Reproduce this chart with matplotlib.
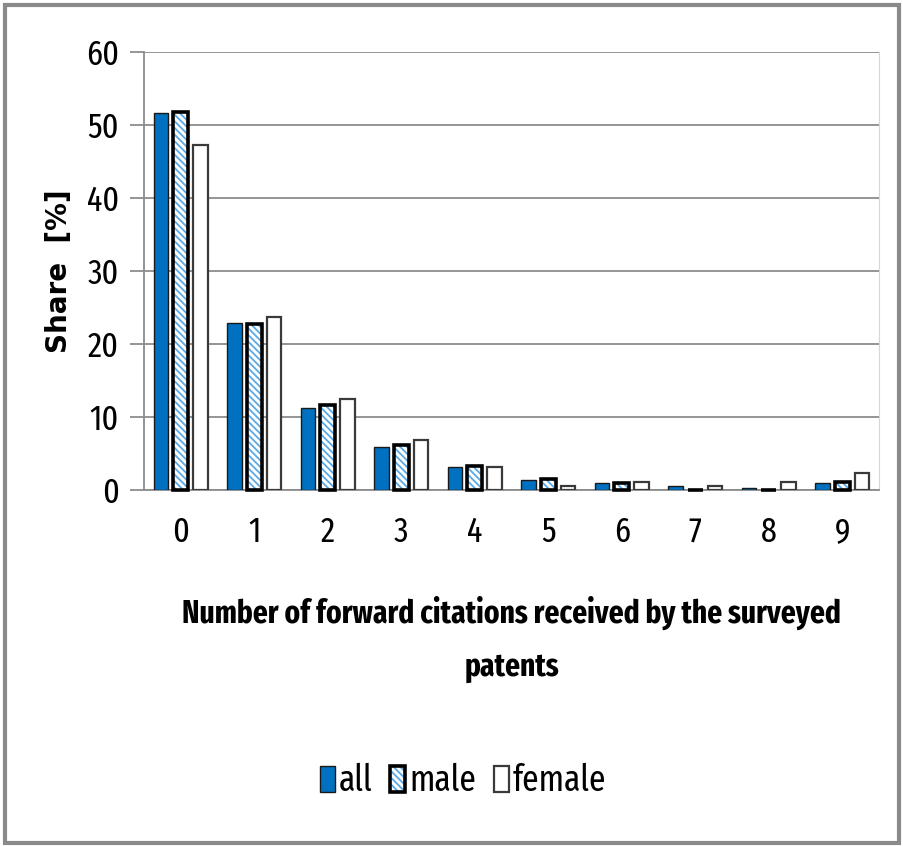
import numpy as np
import matplotlib
matplotlib.use('Agg')
from matplotlib import pyplot as plt
from matplotlib import font_manager
from matplotlib.patches import Rectangle

# pick a condensed family for the labels
installed = {f.name for f in font_manager.fontManager.ttflist}
narrow_fonts = ['Fira Sans Extra Condensed', 'Fira Sans Condensed', 'Open Sans Condensed',
                'Roboto Condensed', 'PT Sans Narrow', 'Archivo Narrow',
                'Encode Sans Condensed', 'Barlow Condensed', 'Liberation Sans Narrow']
narrow = next((f for f in narrow_fonts if f in installed), 'DejaVu Sans')
plt.rcParams['font.family'] = [narrow, 'DejaVu Sans']
plt.rcParams['hatch.linewidth'] = 1.3

citations = ['0', '1', '2', '3', '4', '5', '6', '7', '8', '9']
share_all = [51.7, 22.9, 11.3, 5.9, 3.1, 1.4, 0.9, 0.6, 0.3, 0.9]
share_male = [51.8, 22.8, 11.6, 6.2, 3.3, 1.5, 1.0, 0.0, 0.0, 1.1]
share_female = [47.3, 23.7, 12.4, 6.8, 3.1, 0.6, 1.1, 0.6, 1.1, 2.3]

blue = '#0070c0'
hatch_blue = '#5aa8e6'
grey = '#8c8c8c'

fig = plt.figure(figsize=(9.04, 8.46), dpi=100)
ax = fig.add_axes([144 / 904, 1 - 490 / 846, 735 / 904, 438 / 846])

x = np.arange(len(citations))
width = 0.2
ax.bar(x - 0.27, share_all, width, color=blue, edgecolor='#1a1a1a',
       linewidth=1.0, label='all', zorder=3)
male_bars = ax.bar(x, share_male, width, color='white', edgecolor='black',
                   linewidth=2.6, hatch='\\\\\\\\\\', label='male', zorder=3, clip_on=False)
for bar in male_bars:
    bar._hatch_color = matplotlib.colors.to_rgba(hatch_blue)
ax.bar(x + 0.27, share_female, width, color='white', edgecolor='#3a3a3a',
       linewidth=1.6, label='female', zorder=3)

ax.set_xlim(-0.5, 9.5)
ax.set_ylim(0, 60)
ax.set_yticks(range(0, 61, 10))
ax.set_xticks(x)
ax.set_xticklabels(citations)
ax.yaxis.grid(True, color=grey, linewidth=1.3, zorder=0)
ax.tick_params(axis='y', length=10, width=1.3, color=grey, labelsize=25, pad=8)
ax.tick_params(axis='x', length=0, labelsize=25, pad=18)
ax.spines['top'].set_visible(False)
ax.spines['right'].set_color('#d6d6d6')
for side in ['left', 'bottom']:
    ax.spines[side].set_color(grey)
    ax.spines[side].set_linewidth(1.3)

ax.set_ylabel('Share  [%]', fontsize=20, fontweight='bold', family='DejaVu Sans',
              labelpad=9)
ax.set_xlabel('Number of forward citations received by the surveyed\npatents',
              fontsize=23, fontweight='bold', labelpad=34, linespacing=1.85)

leg = ax.legend(loc='center', bbox_to_anchor=((463 - 144) / 735, -(781 - 490) / 438),
                ncol=3, frameon=False, fontsize=26, handlelength=0.42,
                handleheight=0.75, handletextpad=0.1, columnspacing=0.5)

# outer frame
fig.patches.append(Rectangle((0.006, 0.004), 0.988, 0.99, transform=fig.transFigure,
                             fill=False, edgecolor='#8a8a8a', linewidth=3))

fig.savefig('out.png', dpi=100)
